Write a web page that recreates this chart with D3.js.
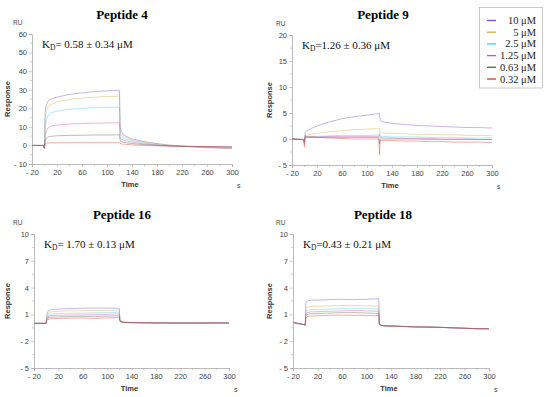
<!DOCTYPE html>
<html><head><meta charset="utf-8">
<script src="https://cdn.jsdelivr.net/npm/d3@7"></script>
<style>body{margin:0;background:#fff}svg{display:block}</style>
</head><body>
<svg id="c" width="550" height="397"></svg>
<script>
// ---------- data ----------
const concentrations = ["10 μM","5 μM","2.5 μM","1.25 μM","0.63 μM","0.32 μM"];
const seriesColors = ["#7b55c8","#c9b44c","#4ccfe0","#d452b2","#686a55","#d8433b"];
const titles = ["Peptide 4","Peptide 9","Peptide 16","Peptide 18"];
const kdValues = ["= 0.58 ± 0.34 μM","=1.26 ± 0.36 μM","= 1.70 ± 0.13 μM","=0.43 ± 0.21 μM"];
const xTicks = [-20,20,60,100,140,180,220,260,300];
const yTicks4 = [-10,0,10,20,30,40,50,60];
const yTicks9 = [-5,0,5,10,15,20];
const yTicks16 = [-5,-2,1,4,7,10];
const yTicks18 = [-5,-2,1,4,7,10];
const time = [-20,-2,0,1,3,6,10,20,40,60,80,100,119,120,121,123,126,130,140,160,180,200,220,240,260,280,300];

const pep4 = [
 [0,0,-1.5,18,22,24,25,26,27.5,28.3,29,29.4,29.7,29.7,10,7.5,6,5,3.5,2,1,0.2,-0.4,-0.8,-1.2,-1.5,-1.8],
 [0,0,-1.5,15,19,21,22,23.5,24.8,25.5,26,26.3,26.5,26.5,8,6.3,5.2,4.3,2.9,1.6,0.7,0,-0.5,-0.8,-1.1,-1.3,-1.5],
 [0,0,-1.5,10,14,16.5,17.5,18.5,19.5,20,20.3,20.5,20.6,20.6,6,5,4.2,3.5,2.4,1.2,0.4,-0.1,-0.5,-0.7,-0.9,-1,-1.1],
 [0,0,-1.5,5,8,9.5,10.3,11,11.5,11.8,12,12.1,12.2,12.2,4,3.4,2.9,2.5,1.7,0.8,0.2,-0.2,-0.5,-0.6,-0.7,-0.8,-0.9],
 [0,0,-1.5,2.5,4,4.6,4.9,5.2,5.4,5.5,5.6,5.6,5.7,5.7,2.5,2,1.7,1.5,1,0.4,0,-0.3,-0.4,-0.5,-0.6,-0.7,-0.8],
 [0,0,-1.5,0.8,1.2,1.3,1.4,1.4,1.5,1.5,1.5,1.5,1.5,1.5,1,0.8,0.7,0.6,0.3,0,-0.2,-0.4,-0.5,-0.6,-0.7,-0.7,-0.8]
];
const pep9 = [
 [0,-0.1,-0.3,1.3,1.5,1.7,2.0,2.5,3.3,3.9,4.3,4.6,4.9,4.9,3.6,3.4,3.3,3.2,3.0,2.8,2.6,2.5,2.4,2.3,2.2,2.2,2.1],
 [0,-0.1,-0.3,0.6,0.7,0.8,0.9,1.1,1.4,1.6,1.8,1.9,2.0,2.0,1.3,1.2,1.2,1.1,1.1,1.0,0.9,0.9,0.8,0.8,0.7,0.7,0.7],
 [0,-0.1,-0.8,0.4,0.4,0.5,0.5,0.5,0.6,0.7,0.7,0.7,0.8,1.2,0.6,0.5,0.5,0.5,0.4,0.4,0.4,0.3,0.3,0.3,0.2,0.2,0.2],
 [0,-0.1,-1.0,0.3,0.3,0.4,0.4,0.4,0.5,0.5,0.5,0.5,0.5,0.8,0.3,0.3,0.2,0.2,0.2,0.1,0.1,0.1,0,0,0,-0.1,-0.1],
 [0,-0.1,-0.5,0.3,0.3,0.3,0.3,0.3,0.3,0.3,0.3,0.3,0.3,-1.0,0,0,0,0,0,0,0,-0.1,-0.1,-0.1,-0.1,-0.1,-0.1],
 [0,-0.1,-1.5,0.7,0.5,0.4,0.4,0.3,0.2,0.1,0,0,0,-3.0,-0.3,-0.3,-0.3,-0.3,-0.3,-0.4,-0.4,-0.5,-0.5,-0.6,-0.6,-0.6,-0.7]
];
const pep16 = [
 [0,0,0,1.0,1.35,1.5,1.55,1.6,1.65,1.7,1.72,1.7,1.68,1.68,0.4,0.25,0.15,0.12,0.1,0.08,0.05,0.05,0.03,0.03,0.05,0.05,0.05],
 [0,0,0,0.8,1.1,1.25,1.3,1.35,1.4,1.42,1.45,1.45,1.45,1.45,0.35,0.22,0.14,0.11,0.09,0.07,0.05,0.04,0.03,0.03,0.04,0.05,0.05],
 [0,0,0,0.6,0.9,1.0,1.05,1.1,1.12,1.15,1.18,1.2,1.25,1.25,0.3,0.2,0.13,0.1,0.08,0.06,0.05,0.04,0.03,0.03,0.04,0.04,0.05],
 [0,0,0,0.5,0.75,0.85,0.88,0.9,0.92,0.95,0.98,1.0,1.05,1.05,0.28,0.18,0.12,0.1,0.08,0.06,0.05,0.04,0.03,0.03,0.04,0.04,0.04],
 [0,0,0,0.4,0.6,0.68,0.7,0.72,0.75,0.78,0.75,0.8,0.85,0.85,0.25,0.16,0.11,0.09,0.07,0.06,0.05,0.04,0.03,0.03,0.03,0.04,0.04],
 [0,0,0,0.3,0.45,0.5,0.52,0.55,0.58,0.6,0.55,0.6,0.65,0.65,0.22,0.15,0.1,0.08,0.07,0.05,0.04,0.03,0.03,0.03,0.03,0.04,0.04]
];
const pep18 = [
 [0.1,-0.15,-0.2,2.3,2.5,2.55,2.6,2.6,2.65,2.7,2.65,2.7,2.75,2.75,-0.1,-0.2,-0.25,-0.28,-0.3,-0.35,-0.4,-0.42,-0.45,-0.5,-0.55,-0.6,-0.6],
 [0.1,-0.15,-0.2,1.6,1.8,1.85,1.9,1.9,1.95,2.0,2.0,1.95,1.95,1.95,-0.1,-0.2,-0.25,-0.28,-0.3,-0.35,-0.4,-0.42,-0.45,-0.5,-0.55,-0.6,-0.6],
 [0.1,-0.15,-0.2,1.3,1.45,1.5,1.55,1.55,1.6,1.65,1.7,1.65,1.6,1.6,-0.1,-0.2,-0.25,-0.28,-0.3,-0.35,-0.4,-0.42,-0.45,-0.5,-0.55,-0.6,-0.6],
 [0.1,-0.15,-0.2,1.05,1.2,1.25,1.28,1.3,1.35,1.4,1.45,1.4,1.35,1.35,-0.1,-0.2,-0.25,-0.28,-0.3,-0.35,-0.4,-0.42,-0.45,-0.5,-0.55,-0.6,-0.6],
 [0.1,-0.15,-0.2,0.85,1.0,1.05,1.08,1.1,1.15,1.2,1.2,1.15,1.1,1.1,-0.1,-0.2,-0.25,-0.28,-0.3,-0.35,-0.4,-0.42,-0.45,-0.5,-0.55,-0.6,-0.6],
 [0.1,-0.15,-0.2,0.6,0.75,0.8,0.82,0.85,0.9,0.92,0.9,0.88,0.85,0.85,-0.1,-0.2,-0.25,-0.28,-0.3,-0.35,-0.4,-0.42,-0.45,-0.5,-0.55,-0.6,-0.6]
];

// ---------- layout ----------
const panels = [
 {data:pep4, ticks:yTicks4, x0:32, x1:232, y0:34, y1:164, tx:122, ty:19, ox:0, oy:0},
 {data:pep9, ticks:yTicks9, x0:292, x1:492, y0:35, y1:165, tx:383, ty:19, ox:275, oy:0},
 {data:pep16, ticks:yTicks16, x0:34, x1:229, y0:234, y1:368, tx:122, ty:219, ox:0, oy:200},
 {data:pep18, ticks:yTicks18, x0:293, x1:489, y0:234, y1:368, tx:383, ty:219, ox:275, oy:200}
];

const svg = d3.select("#c");
const sans = "'Liberation Sans', Arial, sans-serif";
const serif = "'Liberation Serif', 'Times New Roman', serif";
const axisCol = "#aaaaaa", labCol = "#444";

panels.forEach((p,i)=>{
  const yd = d3.extent(p.ticks);
  const x = d3.scaleLinear().domain([-20,300]).range([p.x0,p.x1]);
  const y = d3.scaleLinear().domain(yd).range([p.y1,p.y0]);
  const g = svg.append("g");

  // minor ticks
  const step = p.ticks[1]-p.ticks[0];
  const yMinor = d3.range(yd[0]+step/2, yd[1], step);
  g.selectAll(".ym").data(yMinor).join("line")
    .attr("x1",p.x0-2).attr("x2",p.x0).attr("y1",d=>y(d)).attr("y2",d=>y(d))
    .attr("stroke",axisCol).attr("stroke-width",0.6);
  const xMinor = d3.range(0,300,40);
  g.selectAll(".xm").data(xMinor).join("line")
    .attr("x1",d=>x(d)).attr("x2",d=>x(d)).attr("y1",p.y1).attr("y2",p.y1+2)
    .attr("stroke",axisCol).attr("stroke-width",0.6);

  const ya = d3.axisLeft(y).tickValues(p.ticks).tickSize(3).tickPadding(2).tickFormat(d=>d<0?"- "+Math.abs(d):d);
  const yg = g.append("g").attr("transform",`translate(${p.x0},0)`).call(ya);
  const xa = d3.axisBottom(x).tickValues(xTicks).tickSize(3).tickPadding(3).tickFormat(d=>d<0?"- "+Math.abs(d):d);
  const xg = g.append("g").attr("transform",`translate(0,${p.y1})`).call(xa);
  [yg,xg].forEach(a=>{
    a.select(".domain").attr("stroke",axisCol).attr("stroke-width",0.8);
    a.selectAll(".tick line").attr("stroke",axisCol).attr("stroke-width",0.6);
    a.selectAll("text").attr("font-family",sans).attr("font-size",7.5).attr("fill",labCol);
  });

  // curves
  const line = d3.line().x((d,k)=>x(time[k])).y(d=>y(d));
  g.selectAll(".s").data(p.data).join("path")
    .attr("d",d=>line(d)).attr("fill","none")
    .attr("stroke",(d,k)=>seriesColors[k]).attr("stroke-width",0.8).attr("stroke-opacity",0.55);

  // title
  g.append("text").attr("x",p.tx).attr("y",p.ty).attr("text-anchor","middle")
    .attr("font-family",serif).attr("font-weight","bold").attr("font-size",13).text(titles[i]);
  // KD
  const kd = g.append("text").attr("x",p.x0+10).attr("y",p.y0+14)
    .attr("font-family",serif).attr("font-size",11).attr("fill","#111");
  kd.append("tspan").text("K");
  kd.append("tspan").attr("font-size",7.5).attr("dy",2).text("D");
  kd.append("tspan").attr("dy",-2).text(kdValues[i]);
  // RU
  g.append("text").attr("x",p.ox+ (i%2?1:13)).attr("y",p.y0-9)
    .attr("font-family",sans).attr("font-size",6.5).attr("fill",labCol).text("RU");
  // Response
  g.append("text").attr("transform",`translate(${p.ox+(i%2?-3:10)},${(p.y0+p.y1)/2}) rotate(-90)`)
    .attr("text-anchor","middle").attr("font-family",sans).attr("font-weight","bold")
    .attr("font-size",7.5).attr("fill","#333").text("Response");
  // Time
  g.append("text").attr("x",(p.x0+p.x1)/2-2).attr("y",p.y1+23).attr("text-anchor","middle")
    .attr("font-family",sans).attr("font-weight","bold").attr("font-size",7.5).attr("fill","#333").text("Time");
  g.append("text").attr("x",p.x1+5).attr("y",p.y1+24)
    .attr("font-family",sans).attr("font-size",7).attr("fill",labCol).text("s");
});

// legend
const lg = svg.append("g");
lg.append("rect").attr("x",479.5).attr("y",7.5).attr("width",63).attr("height",80.5)
  .attr("fill","#fff").attr("stroke","#bbb").attr("stroke-width",0.8);
const ly = d3.scalePoint().domain(concentrations).range([20.5,79]);
concentrations.forEach((c,k)=>{
  lg.append("line").attr("x1",487).attr("x2",496).attr("y1",ly(c)).attr("y2",ly(c))
    .attr("stroke",seriesColors[k]).attr("stroke-width",1.4);
  lg.append("text").attr("x",536).attr("y",ly(c)+3.5).attr("text-anchor","end")
    .attr("font-family",serif).attr("font-size",10.5).attr("fill","#222").text(c);
});
</script>
</body></html>
